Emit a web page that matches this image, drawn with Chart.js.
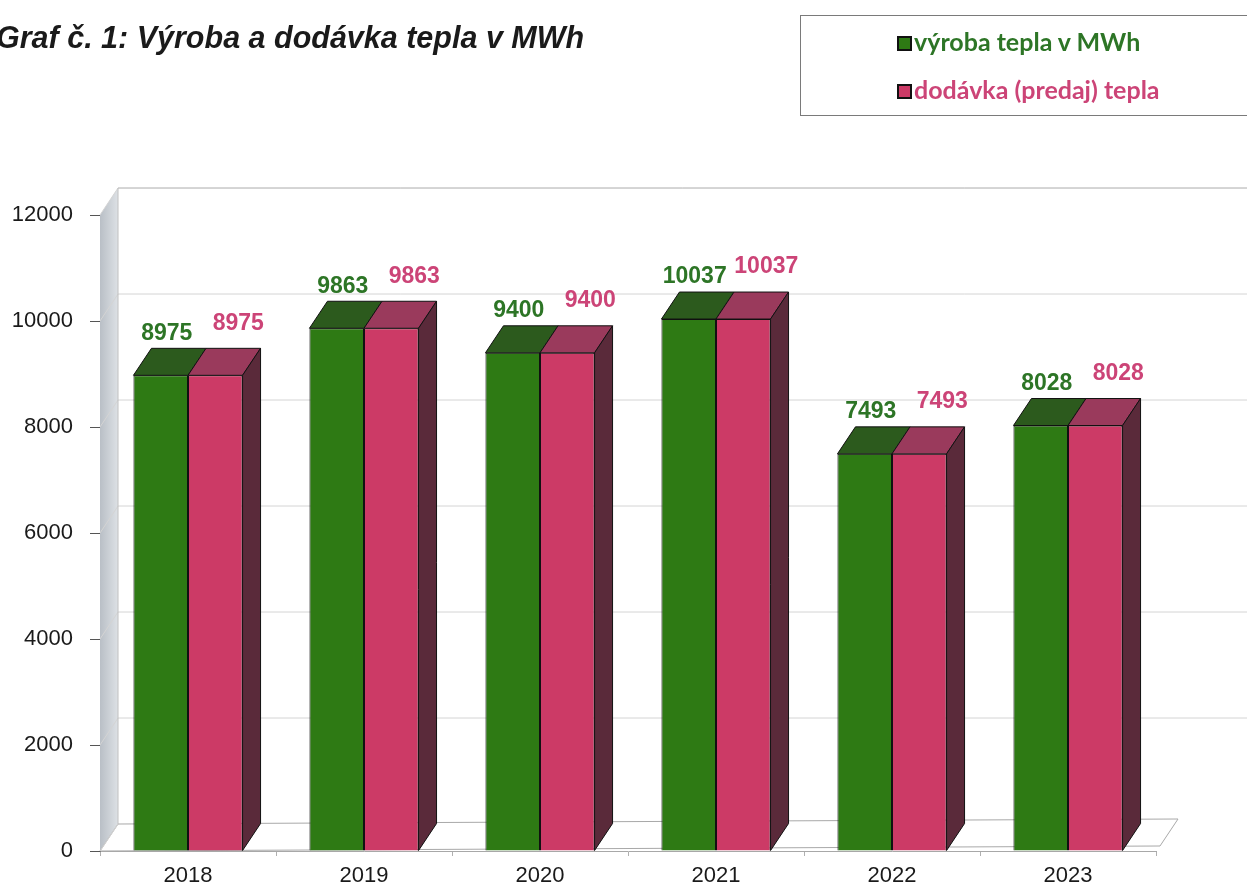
<!DOCTYPE html>
<html lang="sk">
<head>
    <meta charset="UTF-8">
    <title>Graf č. 1: Výroba a dodávka tepla v MWh</title>
    <script src="https://cdn.jsdelivr.net/npm/chart.js"></script>
    <style>
        body {
            margin: 0;
            background: #ffffff;
            overflow: hidden;
        }

        .page {
            position: relative;
            width: 1247px;
            height: 887px;
        }

        .title {
            position: absolute;
            left: -4px;
            top: 20px;
            font-family: "Liberation Sans", Arial, sans-serif;
            font-weight: bold;
            font-style: italic;
            font-size: 30.5px;
            color: #1a1a1a;
            white-space: nowrap;
        }

        .legend {
            position: absolute;
            left: 800px;
            top: 15px;
            width: 460px;
            height: 101px;
            border: 1px solid #7a7a7a;
            box-sizing: border-box;
            font-family: Lato, "Open Sans", sans-serif;
            font-weight: bold;
            font-size: 25px;
            line-height: 29px;
        }

        .legend div {
            position: absolute;
            left: 96px;
            white-space: nowrap;
        }

        .legend span {
            display: inline-block;
            width: 11px;
            height: 11px;
            border: 2px solid #111;
            margin-right: 2px;
            vertical-align: 0px;
        }

        .chart-box {
            position: absolute;
            left: 0;
            top: 0;
            width: 1247px;
            height: 887px;
        }
    </style>
</head>
<body>
<div class="page">
    <div class="chart-box"><canvas id="heatChart"></canvas></div>
    <div class="title">Graf č. 1: Výroba a dodávka tepla v MWh</div>
    <div class="legend" id="legend"></div>
</div>

<script>
    const years = ['2018', '2019', '2020', '2021', '2022', '2023'];
    const production = [8975, 9863, 9400, 10037, 7493, 8028];
    const delivery = [8975, 9863, 9400, 10037, 7493, 8028];
    const seriesNames = ['výroba tepla v MWh', 'dodávka (predaj) tepla'];
    const yTicks = [0, 2000, 4000, 6000, 8000, 10000, 12000];

    // colours: front, top, side, label
    const green = { front: '#2e7a14', top: '#2c5a1d', side: '#1f4214', label: '#2d7526' };
    const pink = { front: '#cc3a66', top: '#9a3a5c', side: '#5a2a3a', label: '#cc4477' };

    // depth of the fake 3D
    const DX = 18, DY = 27;

    // legend
    const legend = document.getElementById('legend');
    [[seriesNames[0], green, 11], [seriesNames[1], pink, 59]].forEach(([name, c, top]) => {
        const row = document.createElement('div');
        row.style.top = top + 'px';
        row.style.color = c.label;
        row.innerHTML = '<span style="background:' + c.front + '"></span>' + name;
        legend.appendChild(row);
    });

    const walls = {
        id: 'walls',
        beforeDatasetsDraw(chart) {
            const { ctx, chartArea, scales } = chart;
            const y = scales.y;
            const left = chartArea.left, bottom = chartArea.bottom, top = chartArea.top;
            const right = chartArea.right;
            ctx.save();
            // side wall
            const grad = ctx.createLinearGradient(left, 0, left + DX, 0);
            grad.addColorStop(0, '#b9bfc6');
            grad.addColorStop(1, '#dde1e5');
            ctx.fillStyle = grad;
            ctx.beginPath();
            ctx.moveTo(left, top);
            ctx.lineTo(left + DX, top - DY);
            ctx.lineTo(left + DX, bottom - DY);
            ctx.lineTo(left, bottom);
            ctx.closePath();
            ctx.fill();

            // floor
            ctx.fillStyle = '#ffffff';
            ctx.strokeStyle = '#a8a8a8';
            ctx.lineWidth = 1;
            ctx.beginPath();
            ctx.moveTo(left, bottom);
            ctx.lineTo(right + 4, bottom - 5);
            ctx.lineTo(right + 4 + DX, bottom - 5 - DY);
            ctx.lineTo(left + DX, bottom - DY);
            ctx.closePath();
            ctx.fill();
            ctx.stroke();

            // back wall grid
            ctx.strokeStyle = '#d4d4d4';
            yTicks.forEach(v => {
                const py = y.getPixelForValue(v);
                ctx.beginPath();
                ctx.moveTo(left, py);
                ctx.lineTo(left + DX, py - DY);
                if (v > 0) ctx.lineTo(chart.width, py - DY);
                ctx.stroke();
            });
            ctx.strokeStyle = '#c0c0c0';
            ctx.beginPath();
            ctx.moveTo(left + DX, bottom - DY);
            ctx.lineTo(left + DX, top - DY);
            ctx.lineTo(chart.width, top - DY);
            ctx.stroke();
            ctx.restore();
        },
        afterDatasetsDraw(chart) {
            const { ctx } = chart;
            const metas = [chart.getDatasetMeta(0), chart.getDatasetMeta(1)];
            const colors = [green, pink];
            ctx.save();
            ctx.strokeStyle = '#111';
            ctx.lineWidth = 1;
            metas.forEach((meta, d) => {
                meta.data.forEach(bar => {
                    const l = bar.x - bar.width / 2, r = bar.x + bar.width / 2;
                    const t = bar.y, b = bar.base;
                    ctx.fillStyle = colors[d].top;
                    ctx.beginPath();
                    ctx.moveTo(l, t);
                    ctx.lineTo(l + DX, t - DY);
                    ctx.lineTo(r + DX, t - DY);
                    ctx.lineTo(r, t);
                    ctx.closePath();
                    ctx.fill();
                    ctx.stroke();
                    if (d === metas.length - 1) {
                        ctx.fillStyle = colors[d].side;
                        ctx.beginPath();
                        ctx.moveTo(r, t);
                        ctx.lineTo(r + DX, t - DY);
                        ctx.lineTo(r + DX, b - DY);
                        ctx.lineTo(r, b);
                        ctx.closePath();
                        ctx.fill();
                        ctx.stroke();
                    }
                });
            });
            // value labels
            ctx.font = 'bold 23px "Liberation Sans", Arial, sans-serif';
            ctx.textAlign = 'center';
            ctx.textBaseline = 'middle';
            metas.forEach((meta, d) => {
                const vals = chart.data.datasets[d].data;
                ctx.fillStyle = colors[d].label;
                meta.data.forEach((bar, i) => {
                    const lx = bar.x + (d === 0 ? 6 : 23);
                    const ly = bar.y - DY - (d === 0 ? 15 : 25);
                    ctx.fillText(String(vals[i]), lx, ly);
                });
            });
            ctx.restore();
        }
    };

    const tickFont = { family: '"Liberation Sans", Arial, sans-serif', size: 22 };

    new Chart(document.getElementById('heatChart'), {
        type: 'bar',
        data: {
            labels: years,
            datasets: [
                {
                    label: seriesNames[0],
                    data: production,
                    backgroundColor: green.front,
                    borderColor: '#111',
                    borderWidth: 1,
                    categoryPercentage: 0.62,
                    barPercentage: 1.0
                },
                {
                    label: seriesNames[1],
                    data: delivery,
                    backgroundColor: pink.front,
                    borderColor: '#111',
                    borderWidth: 1,
                    categoryPercentage: 0.62,
                    barPercentage: 1.0
                }
            ]
        },
        options: {
            responsive: true,
            maintainAspectRatio: false,
            animation: false,
            layout: {
                padding: { top: 215, right: 91, left: 0, bottom: 0 }
            },
            plugins: {
                legend: { display: false },
                tooltip: { enabled: false }
            },
            scales: {
                x: {
                    afterFit: s => { s.height = 36; },
                    grid: {
                        offset: true,
                        drawOnChartArea: false,
                        tickLength: 5,
                        color: '#b0b0b0'
                    },
                    border: { color: '#a8a8a8' },
                    ticks: { color: '#1a1a1a', font: tickFont, padding: 7 }
                },
                y: {
                    min: 0,
                    max: 12000,
                    afterFit: s => { s.width = 100; },
                    afterBuildTicks: s => { s.ticks = yTicks.map(v => ({ value: v })); },
                    grid: {
                        drawOnChartArea: false,
                        tickLength: 10,
                        color: '#555'
                    },
                    border: { color: '#555' },
                    ticks: {
                        color: '#1a1a1a',
                        font: tickFont,
                        padding: 17,
                        callback: v => String(v)
                    }
                }
            }
        },
        plugins: [walls]
    });
</script>
</body>
</html>
